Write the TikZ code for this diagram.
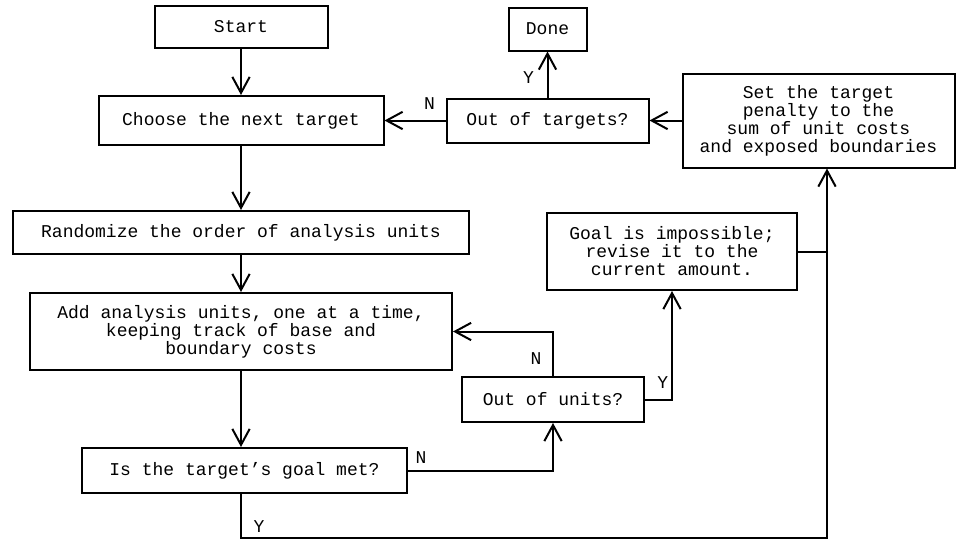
\documentclass[tikz,border=0pt]{standalone}
\usepackage{fontspec}
\newfontfamily\flowfont{Liberation Mono}
\usetikzlibrary{positioning, arrows.meta}

\begin{document}
\begin{tikzpicture}[
    x=0.75pt, y=-0.75pt,
    line width=1.5pt,
    every node/.style={font={\flowfont\fontsize{13.5}{13.5}\selectfont}},
    box/.style={draw, align=center, inner sep=0pt},
    arr/.style={-{Straight Barb[length=12pt, width=13pt]}},
    edgelabel/.style={inner sep=0pt}
  ]
    \useasboundingbox (0,0) rectangle (963,539);

    % main column
    \node[box, minimum width=129.75pt, minimum height=31.5pt] (start) at (241,27) {Start};
    \node[box, minimum width=213.75pt, minimum height=36.75pt, below=34.5pt of start] (choose) {Choose the next target};
    \node[box, minimum width=342pt, minimum height=32.25pt, below=48pt of choose] (rand) {Randomize the order of analysis units};
    \node[box, minimum width=316.5pt, minimum height=57.75pt, below=27.75pt of rand] (add) {Add analysis units, one at a time,\\
                                    keeping track of base and\\boundary costs};
    \node[box, minimum width=243.75pt, minimum height=33.75pt, below=57pt of add, xshift=2.6pt] (goal) {Is the target’s goal met?};

    % top row
    \node[box, minimum width=151.5pt, minimum height=33pt, right=45.75pt of choose] (outT) {Out of targets?};
    \node[box, minimum width=58.5pt, minimum height=32.25pt, above=34.5pt of outT] (done) {Done};
    \node[box, minimum width=204pt, minimum height=70.5pt, right=24pt of outT] (setT) {Set the target\\penalty to the\\
                                    sum of unit costs\\and exposed boundaries};

    % unit loop
    \node[box, minimum width=136.5pt, minimum height=33.75pt] (outU) at (553,399.5) {Out of units?};
    \node[box, minimum width=187.5pt, minimum height=57.75pt] (goalI) at (672,251.5) {Goal is impossible;\\
                                    revise it to the\\current amount.};
    \coordinate (rail) at (827,538);

    \draw[arr] (start) -- (choose);
    \draw[arr] (choose) -- (rand);
    \draw[arr] (rand) -- (add);
    \draw[arr] (add.south) -- (add.south |- goal.north);
    \draw[arr] (setT) -- (outT);
    \draw[arr] (outT) -- node[edgelabel, pos=0.26, yshift=12.75pt] (lblN1) {N} (choose);
    \draw[arr] (outT) -- node[edgelabel, pos=0.43, xshift=-14.25pt] (lblY1) {Y} (done);
    \draw[arr] (outU.north) |- node[edgelabel, pos=0.2, xshift=-12.75pt] (lblN2) {N} (add.east);
    \draw[arr] (outU.east) -| node[edgelabel, pos=0.33, yshift=13pt] (lblY2) {Y} (goalI.south);
    \draw[arr] (goal.east) -| node[edgelabel, pos=0.045, yshift=10pt] (lblN3) {N} (outU.south);
    \draw[arr] (goal.south -| add.south) -- node[edgelabel, pos=0.73, xshift=13.5pt] (lblY3) {Y}
        (add.south |- rail) -- (rail) -- (rail |- setT.south);
    \draw (goalI.east) -- (goalI.east -| rail);
  \end{tikzpicture}
\end{document}
